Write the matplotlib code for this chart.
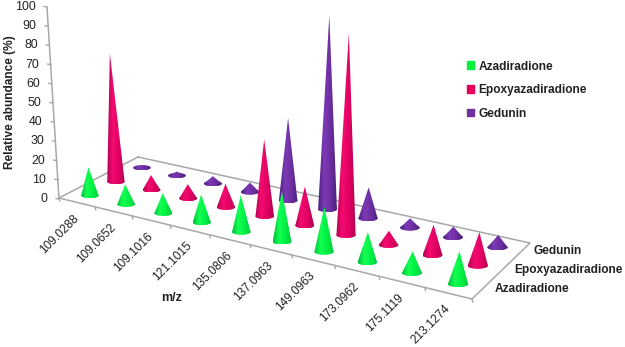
import numpy as np
import matplotlib
matplotlib.use('Agg')
from matplotlib import pyplot as plt
from matplotlib.colors import LinearSegmentedColormap
from matplotlib.patches import Patch
from matplotlib.path import Path

plt.rcParams['font.family'] = ['Liberation Sans', 'DejaVu Sans']

mz_labels = ['109.0288', '109.0652', '109.1016', '121.1015', '135.0806',
             '137.0963', '149.0963', '173.0962', '175.1119', '213.1274']
series_names = ['Azadiradione', 'Epoxyazadiradione', 'Gedunin']
azadiradione = [13.5, 9.4, 9.5, 13.3, 17.5, 24, 21.4, 14.3, 10.3, 15.6]
epoxyazadiradione = [63.5, 7.3, 7, 11.5, 38, 19.3, 100, 7, 15, 16.5]
gedunin = [1, 2, 3.8, 4.8, 42.6, 100, 16, 4.8, 5.5, 6.3]
y_ticks = [0, 10, 20, 30, 40, 50, 60, 70, 80, 90, 100]

# floor of the fake 3d box, in picture pixels
FL, FR, BR, BL = map(np.array, [(59, 198), (472, 299), (530, 243), (138, 157)])
GREY = '#a8a8a8'


def project(u, w):
    # the source chart squeezes the left side, so warp u before going on the floor
    b = 0.86
    u = u * b / (1 + (b - 1) * u)
    front = FL + (FR - FL) * u
    back = BL + (BR - BL) * u
    return front + (back - front) * w, u


cmaps = [
    LinearSegmentedColormap.from_list('g', ['#00c03a', '#14ff52', '#00f044', '#00c83c']),
    LinearSegmentedColormap.from_list('p', ['#b80054', '#f40c70', '#e00062', '#b00050']),
    LinearSegmentedColormap.from_list('v', ['#4f2285', '#7c3ab4', '#6c2ea0', '#4a227e']),
]


def cone(ax, cx, cy, rx, ry, h, cmap, zorder):
    # tips lean to a vanishing point, same as the y axis
    tip_x = cx + (cx - 293) * 0.000268 * h
    tip_y = cy - h
    t = np.linspace(np.pi, 0, 30)
    lower = np.column_stack([cx + rx * np.cos(t), cy + ry * np.sin(t)])
    t = np.linspace(0, 2 * np.pi, 60)
    full = Path(np.column_stack([cx + rx * np.cos(t), cy + ry * np.sin(t)]))
    tri = Path(np.vstack([[[tip_x, tip_y]], lower, [[tip_x, tip_y]]]))
    top = min(tip_y, cy - ry)
    for p in [full, tri]:
        im = ax.imshow(np.linspace(0, 1, 64)[None, :], cmap=cmap, aspect='auto',
                       extent=(cx - rx, cx + rx, cy + ry, top), zorder=zorder,
                       interpolation='bilinear')
        im.set_clip_path(p, ax.transData)


fig = plt.figure(figsize=(6.25, 3.47), dpi=100)
ax = fig.add_axes([0, 0, 1, 1])
ax.axis('off')

# floor outline and ticks
ax.plot(*np.array([BL, BR, FR, FL, BL]).T, color=GREY, lw=1.1, zorder=1)
for k in range(11):
    p, _ = project(k / 10, 0)
    ax.plot([p[0], p[0] + 0.8], [p[1], p[1] + 3], color=GREY, lw=1, zorder=1)

# y axis
y0, y1 = np.array((59, 199)), np.array((47, 7))
ax.plot([y0[0], y1[0]], [y0[1], y1[1]], color=GREY, lw=1.1, zorder=1)
for v in y_ticks:
    p = y0 + (y1 - y0) * v / 100
    ax.plot([p[0] - 3, p[0]], [p[1] - 0.5, p[1]], color=GREY, lw=1, zorder=1)
    ax.text(p[0] - 11.5, p[1], str(v), ha='right', va='center', fontsize=8.9, color='#222222')

# cones, back row first
rows = [azadiradione, epoxyazadiradione, gedunin]
zo = 2
for s in [2, 1, 0]:
    w = (s + 0.5) / 3
    for i, val in enumerate(rows[s]):
        p, warped = project((i + 0.5) / 10, w)
        rx = 8.6 + 1.6 * warped
        cone(ax, p[0], p[1], rx, rx * 0.3, val * (2.14 - 0.24 * w), cmaps[s], zo)
        zo += 1

# labels
for i, lab in enumerate(mz_labels):
    p, _ = project((i + 0.5) / 10, 0)
    ax.text(p[0] + 0.5, p[1] + 14, lab, rotation=45, rotation_mode='anchor', ha='right',
            va='center', fontsize=8.6, color='#222222')
for s, name in enumerate(series_names):
    p, _ = project(1, (s + 0.5) / 3)
    ax.text(p[0] + 13, p[1] - 1, name, ha='left', va='center', fontsize=8.6,
            fontweight='bold', color='#222222')
ax.text(172, 298, 'm/z', ha='center', va='center', fontsize=9, fontweight='bold', color='#222222')
ax.text(10, 102, 'Relative abundance (%)', rotation=90, ha='center', va='center',
        fontsize=8.6, fontweight='bold', color='#222222')

handles = [Patch(color=c) for c in ['#00f040', '#e6005c', '#7030a0']]
ax.legend(handles, series_names, loc='upper left', bbox_to_anchor=(467, 60.5),
          bbox_transform=ax.transData, frameon=False, handlelength=0.6, handleheight=0.6,
          handletextpad=0.35, labelspacing=0.98, borderpad=0, borderaxespad=0,
          prop={'size': 8.6, 'weight': 'bold'}, labelcolor='#222222')

ax.set_xlim(0, 625)
ax.set_ylim(347, 0)
fig.savefig('out.png', dpi=100)
